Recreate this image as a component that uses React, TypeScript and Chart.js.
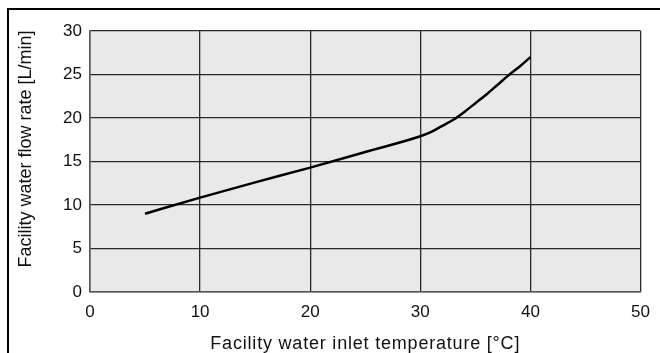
import React, { useEffect, useRef } from "react";
import { Chart, registerables } from "chart.js";

Chart.register(...registerables);

const temps = [5, 10, 15, 20, 25, 30, 31, 32, 33, 34, 35, 36, 37, 38, 39, 40];
const flows = [9.0, 10.85, 12.6, 14.3, 16.1, 17.9, 18.4, 19.1, 19.8, 20.7, 21.7, 22.7, 23.8, 24.9, 25.9, 27.0];
const xTitle = "Facility water inlet temperature [°C]";
const yTitle = "Facility water flow rate [L/min]";
const FONT = "'Liberation Sans', Arial, Helvetica, sans-serif";

export default function App() {
  const ref = useRef<HTMLCanvasElement>(null);
  useEffect(() => {
    const bgPlugin = {
      id: "bg",
      beforeDraw(chart: any) {
        const { ctx, chartArea } = chart;
        ctx.save();
        ctx.fillStyle = "#e8e9e8";
        ctx.fillRect(chartArea.left, chartArea.top, chartArea.right - chartArea.left, chartArea.bottom - chartArea.top);
        ctx.restore();
      },
      afterDraw(chart: any) {
        const { ctx, chartArea } = chart;
        ctx.save();
        ctx.fillStyle = "#111";
        ctx.font = `18px ${FONT}`;
        ctx.textAlign = "center";
        ctx.textBaseline = "alphabetic";
        (ctx as any).letterSpacing = "0.8px";
        ctx.fillText(xTitle, (chartArea.left + chartArea.right) / 2, 349);
        (ctx as any).letterSpacing = "0px";
        ctx.translate(31, 149);
        ctx.rotate(-Math.PI / 2);
        ctx.fillText(yTitle, 0, 0);
        ctx.restore();
      },
    };
    const chart = new Chart(ref.current!, {
      type: "line",
      data: {
        datasets: [
          {
            data: temps.map((t, i) => ({ x: t, y: flows[i] })),
            borderColor: "#000",
            borderWidth: 2.5,
            pointRadius: 0,
            tension: 0.4,
            cubicInterpolationMode: "monotone",
            fill: false,
          },
        ],
      },
      options: {
        animation: false,
        responsive: false,
        maintainAspectRatio: false,
        layout: { padding: { left: 0, right: 18, top: 31, bottom: 0 } },
        plugins: { legend: { display: false }, tooltip: { enabled: false } },
        scales: {
          x: {
            type: "linear",
            min: 0,
            max: 50,
            ticks: { stepSize: 10, color: "#111", font: { family: FONT, size: 17 }, padding: 10, maxRotation: 0 },
            grid: { color: "#2a2a2a", lineWidth: 1.3, drawTicks: false },
            border: { color: "#555", width: 1.5 },
            afterFit(s: any) { s.height = 61; },
          },
          y: {
            min: 0,
            max: 30,
            ticks: { stepSize: 5, color: "#111", font: { family: FONT, size: 17 }, padding: 8 },
            grid: { color: "#2a2a2a", lineWidth: 1.3, drawTicks: false },
            border: { color: "#555", width: 1.5 },
            afterFit(s: any) { s.width = 90; },
          },
        },
      },
      plugins: [bgPlugin],
    });
    return () => chart.destroy();
  }, []);
  return (
    <div style={{ position: "fixed", left: 0, top: 0, width: 660, height: 353, background: "#fff" }}>
      <div style={{ position: "absolute", left: 7, top: 8, width: 660, height: 353, borderTop: "2px solid #000", borderLeft: "2px solid #000", boxSizing: "border-box" }} />
      <canvas ref={ref} width={660} height={353} style={{ position: "absolute", left: 0, top: 0 }} />
    </div>
  );
}
